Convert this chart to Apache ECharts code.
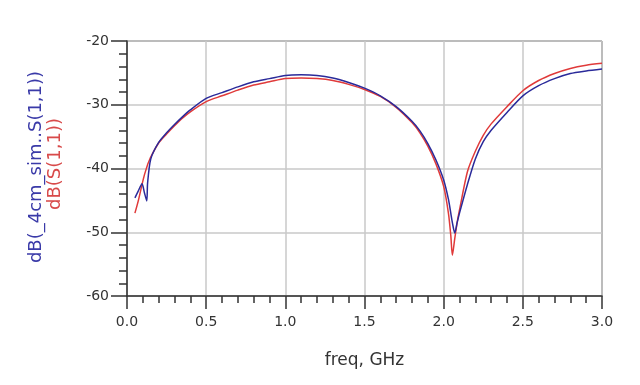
<!DOCTYPE html>
<html><head><meta charset="utf-8">
<script src="https://cdn.jsdelivr.net/npm/echarts@6/dist/echarts.min.js"></script>
<style>html,body{margin:0;padding:0;background:#fff}#c{width:640px;height:385px}</style>
</head><body><div id="c"></div>
<script>
var freq = [0.05,0.07,0.095,0.11,0.125,0.13,0.15,0.2,0.25,0.3,0.35,0.4,0.5,0.6,0.7,0.8,0.9,1.0,1.1,1.2,1.3,1.4,1.5,1.6,1.7,1.8,1.85,1.9,1.95,2.0,2.03,2.045,2.055,2.07,2.085,2.1,2.15,2.2,2.25,2.3,2.4,2.5,2.6,2.7,2.8,2.9,3.0];
var s11Sim = [-44.6,-43.6,-42.4,-43.8,-45.1,-42.3,-38.5,-35.9,-34.4,-33.1,-31.9,-30.8,-29.0,-28.1,-27.2,-26.4,-25.9,-25.4,-25.3,-25.4,-25.8,-26.5,-27.4,-28.6,-30.3,-32.6,-34.1,-36.1,-38.6,-41.8,-44.8,-47.0,-48.5,-50.1,-48.5,-47.0,-42.5,-38.5,-35.8,-34.0,-31.2,-28.6,-27.0,-25.9,-25.1,-24.7,-24.4];
var s11Meas = [-47.0,-45.2,-42.5,-41.0,-39.8,-39.4,-38.2,-36.0,-34.6,-33.3,-32.1,-31.1,-29.5,-28.6,-27.7,-26.9,-26.4,-25.9,-25.8,-25.9,-26.2,-26.8,-27.6,-28.7,-30.4,-32.8,-34.4,-36.5,-39.2,-42.8,-47.0,-50.5,-53.6,-51.0,-48.5,-46.5,-40.5,-37.3,-34.8,-33.0,-30.3,-27.8,-26.2,-25.1,-24.3,-23.8,-23.5];
var xTicks = [0.0,0.5,1.0,1.5,2.0,2.5,3.0];
var yTicks = [-60,-50,-40,-30,-20];
var nameSim = 'dB(_4cm_sim..S(1,1))';
var nameMeas = 'dB(S(1,1))';
var xName = 'freq, GHz';

function pairs(xs, ys){ return xs.map(function(x,i){ return [x, ys[i]]; }); }
var FONT = 'DejaVu Sans';
var chart = echarts.init(document.getElementById('c'), null, {renderer:'canvas'});
chart.setOption({
  animation:false,
  backgroundColor:'#ffffff',
  grid:{left:127,right:38,top:41,bottom:89,show:true,borderColor:'#333',borderWidth:1,backgroundColor:'transparent'},
  xAxis:{type:'value',min:xTicks[0],max:xTicks[xTicks.length-1],interval:0.5,
    name:xName,nameLocation:'middle',nameGap:56,
    nameTextStyle:{fontFamily:FONT,fontSize:17,color:'#333'},
    axisLine:{show:true,onZero:false,lineStyle:{color:'#333',width:1.5}},
    axisTick:{show:true,length:13,lineStyle:{color:'#333',width:1.5}},
    minorTick:{show:true,splitNumber:5,length:7,lineStyle:{color:'#333',width:1.5}},
    splitLine:{show:true,lineStyle:{color:'#c8c8c8',width:1.5}},
    axisLabel:{fontFamily:FONT,fontSize:14,color:'#333',margin:19,formatter:function(v){return v.toFixed(1);}}
  },
  yAxis:{type:'value',min:yTicks[0],max:yTicks[yTicks.length-1],interval:10,
    axisLine:{show:true,onZero:false,lineStyle:{color:'#333',width:1.5}},
    axisTick:{show:true,length:16,lineStyle:{color:'#333',width:1.5}},
    minorTick:{show:true,splitNumber:5,length:8,lineStyle:{color:'#333',width:1.5}},
    splitLine:{show:true,lineStyle:{color:'#c8c8c8',width:1.5}},
    axisLabel:{fontFamily:FONT,fontSize:14,color:'#333',margin:18}
  },
  graphic:[
    {type:'text',x:36,y:167,rotation:Math.PI/2,style:{text:nameSim,fontFamily:FONT,fontSize:18,fill:'#3a3aa8',textAlign:'center',textVerticalAlign:'middle'}},
    {type:'text',x:55,y:164,rotation:Math.PI/2,style:{text:nameMeas,fontFamily:FONT,fontSize:18,fill:'#d84a4a',textAlign:'center',textVerticalAlign:'middle'}}
  ],
  series:[
    {name:nameMeas,type:'line',data:pairs(freq,s11Meas),showSymbol:false,smooth:0.25,lineStyle:{color:'#e03a3a',width:1.5},z:2},
    {name:nameSim,type:'line',data:pairs(freq,s11Sim),showSymbol:false,smooth:0.25,lineStyle:{color:'#2a2a9a',width:1.5},z:3}
  ]
});
</script></body></html>
